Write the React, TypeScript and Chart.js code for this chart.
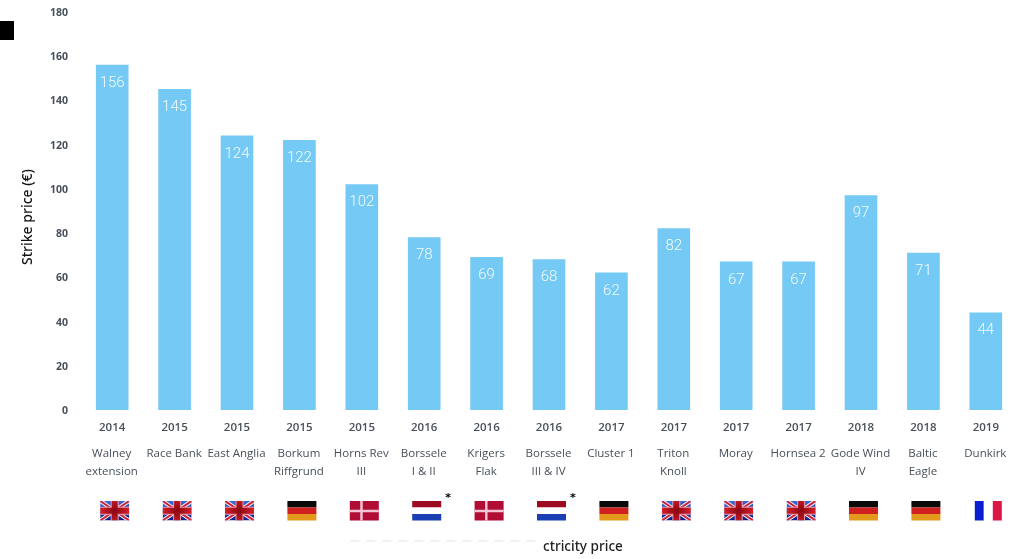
import React, { useEffect, useRef } from "react";
import { Chart, registerables } from "chart.js";

Chart.register(...registerables);

const projects = [
  ["Walney", "extension"],
  ["Race Bank"],
  ["East Anglia"],
  ["Borkum", "Riffgrund"],
  ["Horns Rev", "III"],
  ["Borssele", "I & II"],
  ["Krigers", "Flak"],
  ["Borssele", "III & IV"],
  ["Cluster 1"],
  ["Triton", "Knoll"],
  ["Moray"],
  ["Hornsea 2"],
  ["Gode Wind", "IV"],
  ["Baltic", "Eagle"],
  ["Dunkirk"],
];
const years = ["2014", "2015", "2015", "2015", "2015", "2016", "2016", "2016", "2017", "2017", "2017", "2017", "2018", "2018", "2019"];
const strikePrices = [156, 145, 124, 122, 102, 78, 69, 68, 62, 82, 67, 67, 97, 71, 44];
const countries = ["uk", "uk", "uk", "de", "dk", "nl", "dk", "nl", "de", "uk", "uk", "uk", "de", "de", "fr"];
const footnoted = [5, 7];
const yTicks = [0, 20, 40, 60, 80, 100, 120, 140, 160, 180];

const BAR_COLOR = "#75C9F5";
const TEXT_COLOR = "#47505a";
const TEXT_FONT = '"Open Sans", sans-serif';

function stripes(ctx: CanvasRenderingContext2D, x: number, y: number, w: number, h: number, colors: string[], vertical: boolean) {
  colors.forEach((c, i) => {
    ctx.fillStyle = c;
    if (vertical) ctx.fillRect(x + (w * i) / colors.length, y, w / colors.length, h);
    else ctx.fillRect(x, y + (h * i) / colors.length, w, h / colors.length);
  });
}

function drawUnionFlag(ctx: CanvasRenderingContext2D, x: number, y: number, w: number, h: number) {
  ctx.save();
  ctx.beginPath();
  ctx.rect(x, y, w, h);
  ctx.clip();
  const field = ctx.createLinearGradient(0, y, 0, y + h);
  field.addColorStop(0, "#3f66d8");
  field.addColorStop(1, "#0e1a86");
  ctx.fillStyle = field;
  ctx.fillRect(x, y, w, h);
  ctx.strokeStyle = "#f2eef2";
  ctx.lineWidth = 4;
  ctx.beginPath();
  ctx.moveTo(x, y);
  ctx.lineTo(x + w, y + h);
  ctx.moveTo(x + w, y);
  ctx.lineTo(x, y + h);
  ctx.stroke();
  ctx.strokeStyle = "#c8243a";
  ctx.lineWidth = 2;
  ctx.stroke();
  ctx.fillStyle = "#e8a0a8";
  ctx.fillRect(x + w / 2 - 4, y, 8, h);
  ctx.fillRect(x, y + h / 2 - 4, w, 8);
  const cross = ctx.createRadialGradient(x + w / 2, y + h / 2, 1, x + w / 2, y + h / 2, w / 2);
  cross.addColorStop(0, "#8e0a14");
  cross.addColorStop(1, "#d5202c");
  ctx.fillStyle = cross;
  ctx.fillRect(x + w / 2 - 3, y, 6, h);
  ctx.fillRect(x, y + h / 2 - 3, w, 6);
  ctx.restore();
}

function drawDanishFlag(ctx: CanvasRenderingContext2D, x: number, y: number, w: number, h: number) {
  ctx.fillStyle = "#b00c34";
  ctx.fillRect(x, y, w, h);
  ctx.fillStyle = "#f6c4d2";
  ctx.fillRect(x + w * 0.36, y, 2.5, h);
  ctx.fillRect(x, y + h / 2 - 1, w, 2.5);
}

function drawFlag(ctx: CanvasRenderingContext2D, country: string, x: number, y: number, w: number, h: number) {
  if (country === "uk") drawUnionFlag(ctx, x, y, w, h);
  else if (country === "dk") drawDanishFlag(ctx, x, y, w, h);
  else if (country === "de") stripes(ctx, x, y, w, h, ["#0a0a0a", "#cf1f1f", "#e39a1c"], false);
  else if (country === "nl") stripes(ctx, x, y, w, h, ["#9c0b22", "#ffffff", "#1a3fb5"], false);
  else if (country === "fr") stripes(ctx, x + 1, y, w - 2, h, ["#0c1fd0", "#ffffff", "#dc1745"], true);
}

// Draws value labels inside the bars, plus project names, flags and page furniture.
const annotations = {
  id: "annotations",
  afterDatasetsDraw(chart: any) {
    const { ctx, scales } = chart;
    const x = scales.x;
    const bars = chart.getDatasetMeta(0).data;
    ctx.save();

    ctx.font = "300 15px Roboto, sans-serif";
    ctx.fillStyle = "rgba(255,255,255,0.92)";
    ctx.textAlign = "center";
    ctx.textBaseline = "middle";
    bars.forEach((bar: any, i: number) => {
      ctx.fillText(String(strikePrices[i]), bar.x, bar.y + 18);
    });

    ctx.font = `11.5px ${TEXT_FONT}`;
    ctx.fillStyle = TEXT_COLOR;
    projects.forEach((lines, i) => {
      const cx = x.getPixelForValue(i);
      lines.forEach((line, j) => ctx.fillText(line, cx - 0.5, 454 + j * 17.5));
    });

    countries.forEach((country, i) => {
      const cx = x.getPixelForValue(i) + 2.5;
      drawFlag(ctx, country, cx - 14.5, 501, 29, 19.5);
    });

    ctx.fillStyle = "#000";
    ctx.font = "bold 11px 'DejaVu Sans', sans-serif";
    footnoted.forEach((i) => {
      ctx.fillText("*", x.getPixelForValue(i) + 24, 498);
    });

    ctx.fillRect(0, 21, 14, 19);

    // Vertical axis caption
    ctx.save();
    ctx.translate(28, 217);
    ctx.rotate(-Math.PI / 2);
    ctx.font = "500 14px 'Noto Sans', sans-serif";
    ctx.fillStyle = "#111";
    ctx.fillText("Strike price (€)", 0, 0);
    ctx.restore();

    // Caption along the foot of the page, with the remnant of its erased start
    ctx.strokeStyle = "#eceef1";
    ctx.lineWidth = 1.5;
    ctx.setLineDash([9, 7]);
    ctx.beginPath();
    ctx.moveTo(350, 541);
    ctx.lineTo(538, 541);
    ctx.stroke();
    ctx.setLineDash([]);

    ctx.font = "500 13.6px 'Noto Sans', sans-serif";
    ctx.fillStyle = "#222";
    ctx.textAlign = "left";
    ctx.fillText("ctricity price", 543, 547);
    ctx.restore();
  },
};

export default function App() {
  const canvasRef = useRef<HTMLCanvasElement>(null);

  useEffect(() => {
    document.body.style.margin = "0";
    document.body.style.background = "#fff";
    const chart = new Chart(canvasRef.current!, {
      type: "bar",
      data: {
        labels: years,
        datasets: [
          {
            data: strikePrices,
            backgroundColor: BAR_COLOR,
            barThickness: 32,
          },
        ],
      },
      plugins: [annotations],
      options: {
        animation: false,
        responsive: false,
        layout: { padding: { top: 12, right: 7, left: 0, bottom: 0 } },
        plugins: { legend: { display: false }, tooltip: { enabled: false } },
        scales: {
          x: {
            grid: { display: false, drawTicks: false },
            border: { display: false },
            ticks: {
              autoSkip: false,
              maxRotation: 0,
              padding: 11,
              color: TEXT_COLOR,
              font: { family: TEXT_FONT, size: 11.5, weight: "600" },
            },
            afterFit(scale: any) {
              scale.height = 149;
            },
          },
          y: {
            min: 0,
            max: 180,
            grid: { display: false, drawTicks: false },
            border: { display: false },
            afterBuildTicks(scale: any) {
              scale.ticks = yTicks.map((value) => ({ value }));
            },
            ticks: {
              padding: 13,
              labelOffset: 1,
              color: TEXT_COLOR,
              font: { family: TEXT_FONT, size: 10.5, weight: "700" },
            },
            afterFit(scale: any) {
              scale.width = 81;
              // Tick padding would otherwise inflate the plot's top margin.
              scale.paddingTop = 0;
              scale.paddingBottom = 0;
            },
          },
        },
      },
    } as any);
    return () => chart.destroy();
  }, []);

  return <canvas ref={canvasRef} width={1024} height={559} style={{ display: "block" }} />;
}
